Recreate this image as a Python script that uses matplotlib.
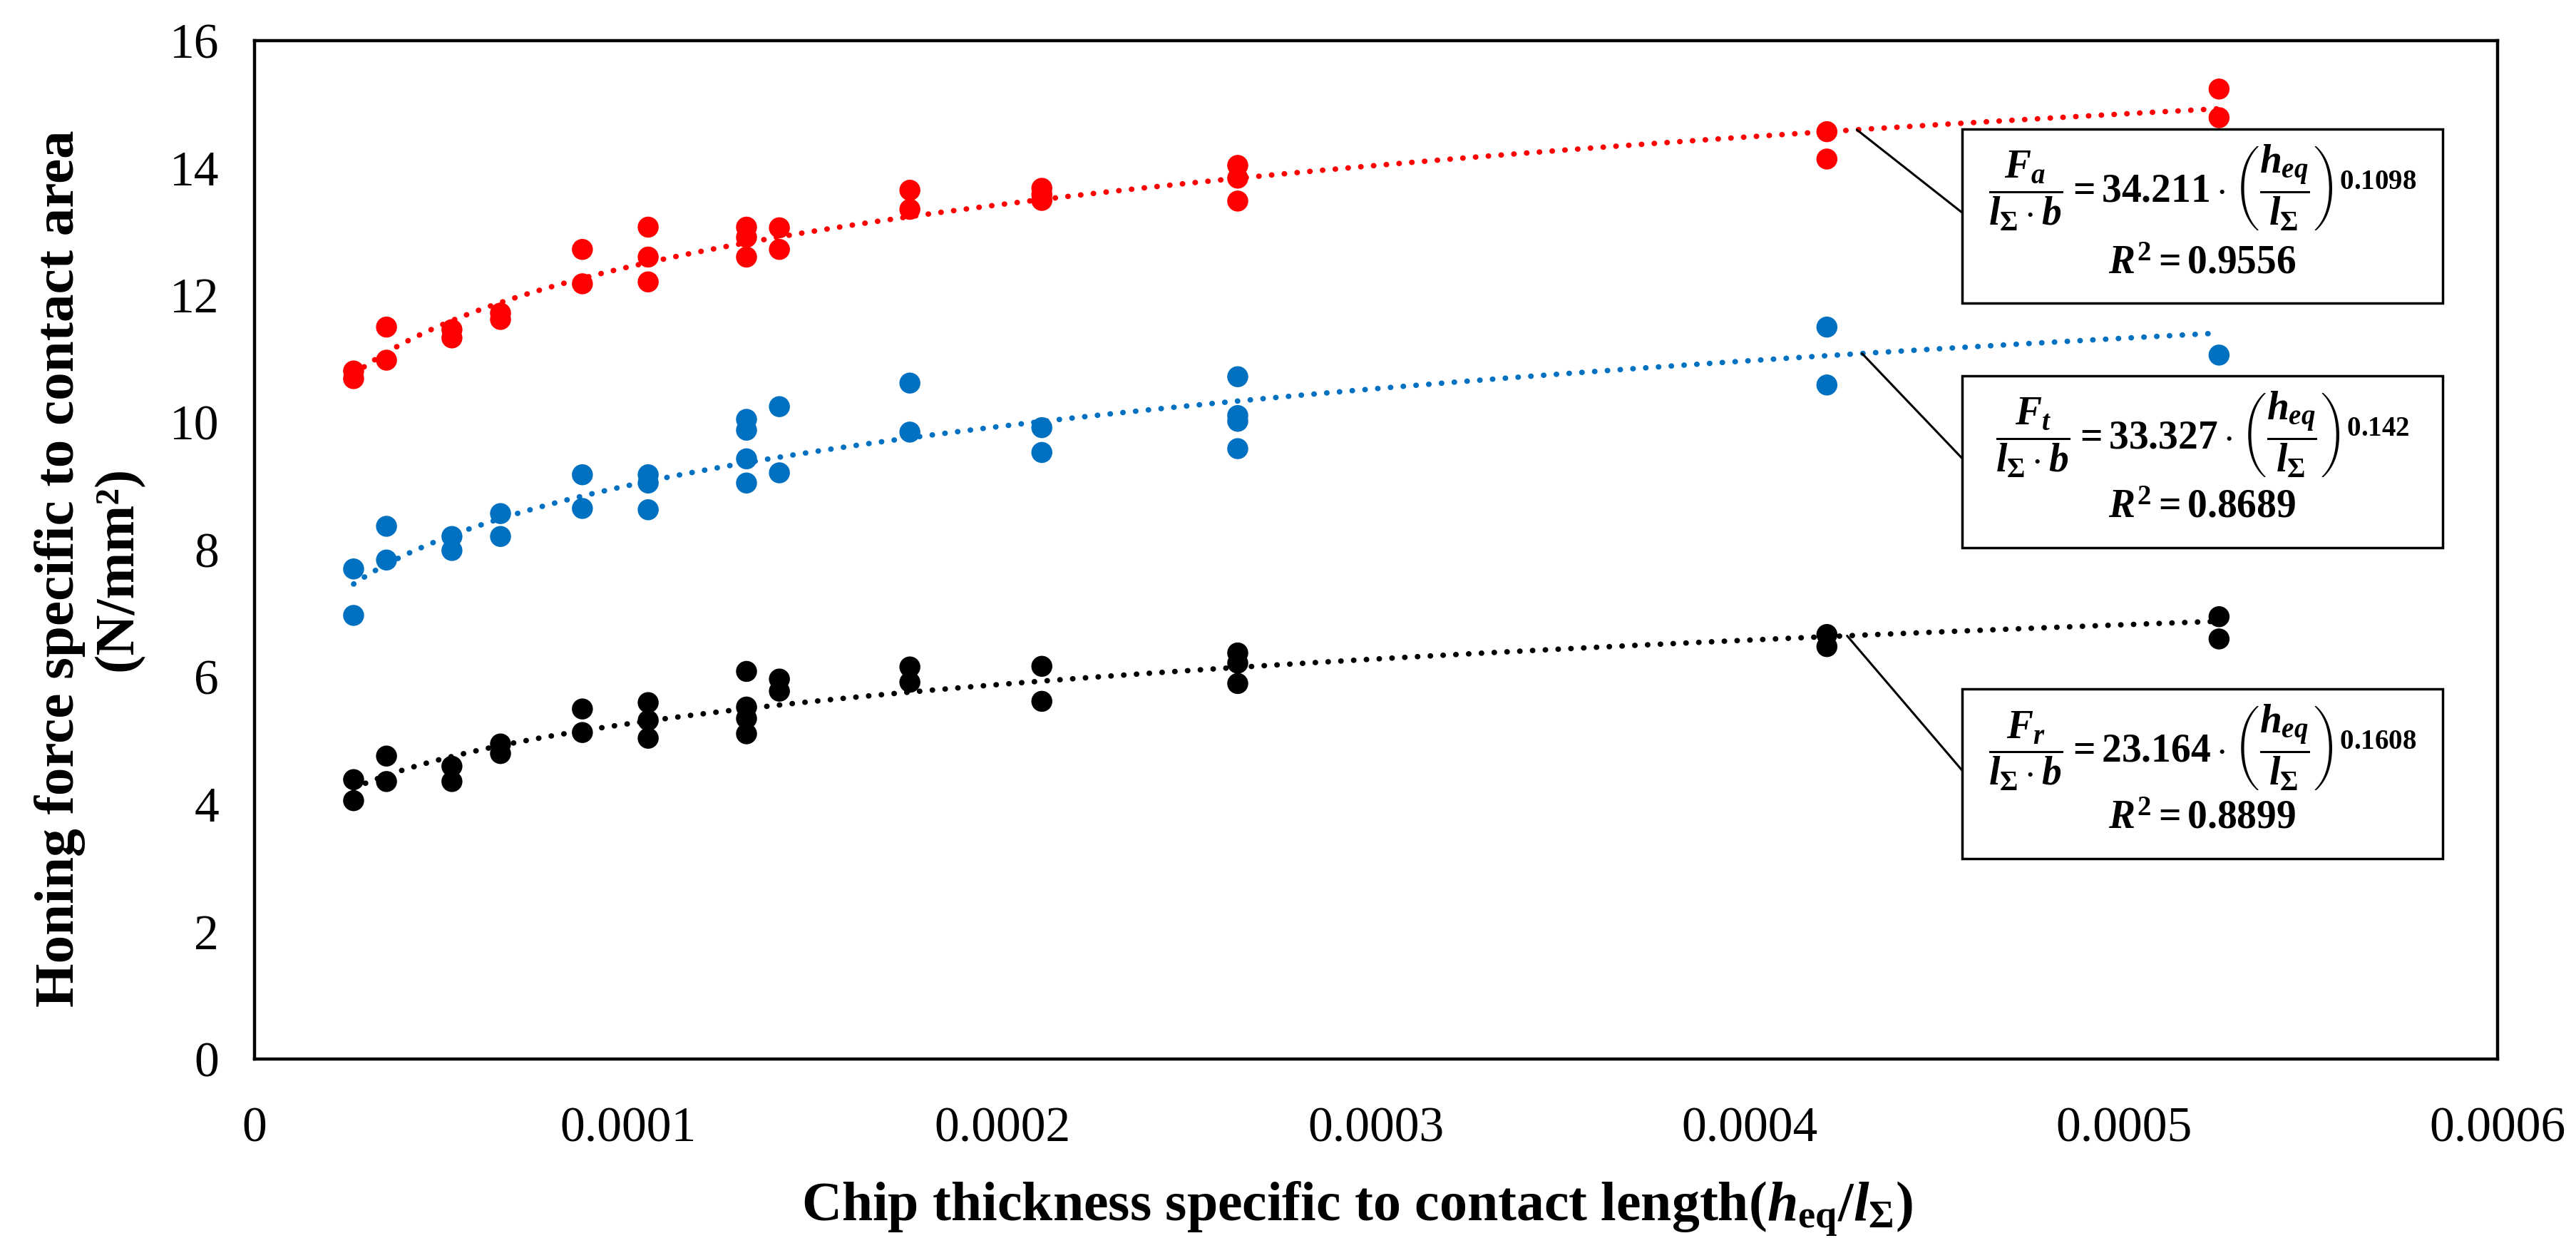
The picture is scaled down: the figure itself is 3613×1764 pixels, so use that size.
import numpy as np
import matplotlib
matplotlib.use("Agg")
import matplotlib.pyplot as plt
from matplotlib.patches import Rectangle

plt.rcParams['font.family'] = ['Liberation Serif', 'DejaVu Serif']
plt.rcParams['mathtext.fontset'] = 'custom'
plt.rcParams['mathtext.rm'] = 'Liberation Serif:bold'
plt.rcParams['mathtext.it'] = 'Liberation Serif:bold:italic'
plt.rcParams['mathtext.bf'] = 'Liberation Serif:bold'

# chip thickness ratio levels (h_eq / l_sigma)
x_levels = [2.65e-5, 3.53e-5, 5.28e-5, 6.58e-5, 8.77e-5, 1.053e-4, 1.316e-4,
            1.404e-4, 1.753e-4, 2.106e-4, 2.630e-4, 4.206e-4, 5.255e-4]

# measured specific forces (N/mm2), several repeats per level
fa_values = [[10.81, 10.69], [11.50, 10.98], [11.46, 11.33], [11.72, 11.62],
             [12.72, 12.18], [13.07, 12.60, 12.21], [13.07, 12.91, 12.60],
             [13.06, 12.72], [13.65, 13.35], [13.68, 13.58, 13.49],
             [14.04, 13.84, 13.48], [14.57, 14.14], [15.24, 14.79]]
ft_values = [[7.70, 6.97], [8.37, 7.84], [8.21, 7.99], [8.57, 8.21],
             [9.18, 8.65], [9.18, 9.05, 8.63], [10.05, 9.88, 9.43, 9.05],
             [10.25, 9.21], [10.62, 9.85], [9.92, 9.53],
             [10.72, 10.11, 10.02, 9.59], [11.50, 10.59], [11.06]]
fr_values = [[4.39, 4.06], [4.76, 4.36], [4.60, 4.36], [4.95, 4.80],
             [5.50, 5.13], [5.60, 5.32, 5.04], [6.09, 5.53, 5.35, 5.11],
             [5.97, 5.78], [6.16, 5.92], [6.17, 5.62],
             [6.38, 6.22, 5.90], [6.67, 6.48], [6.95, 6.60]]

# power trendline coefficients shown in the boxes
fit_coef = [34.211, 33.327, 23.164]
fit_exp = [0.1098, 0.142, 0.1608]
fit_r2 = ['0.9556', '0.8689', '0.8899']
fit_names = ['a', 't', 'r']
colors = ['#FF0000', '#0070C0', '#000000']

W, H = 3613, 1764
fig = plt.figure(figsize=(W / 100, H / 100), dpi=100)
ax = fig.add_axes([357 / W, 1 - 1485 / H, (3503 - 357) / W, (1485 - 57) / H])

all_series = [fa_values, ft_values, fr_values]
x_line = np.linspace(x_levels[0], x_levels[-1], 300)
for vals, col, a, b in zip(all_series, colors, fit_coef, fit_exp):
    xs = []
    ys = []
    for xv, group in zip(x_levels, vals):
        for yv in group:
            xs.append(xv)
            ys.append(yv)
    ax.scatter(xs, ys, s=450, color=col, edgecolors='none', zorder=2)
    ax.plot(x_line, a * x_line ** b, color=col, lw=5.5,
            linestyle=(0, (0.05, 2.3)), dash_capstyle='round', zorder=3)

ax.set_xlim(0, 0.0006)
ax.set_ylim(0, 16)
ax.set_xticks(np.arange(0, 0.00061, 0.0001))
ax.set_xticklabels(['0', '0.0001', '0.0002', '0.0003', '0.0004', '0.0005', '0.0006'])
ax.set_yticks(range(0, 17, 2))
ax.tick_params(length=0, labelsize=50)
ax.tick_params(axis='x', pad=48)
ax.tick_params(axis='y', pad=36)
for sp in ax.spines.values():
    sp.set_linewidth(3.2)
    sp.set_color('black')

fig.text(1903 / W, 1 - 1695 / H,
         r'Chip thickness specific to contact length($h_{\mathrm{eq}}/l_{\Sigma}$)',
         ha='center', va='center', fontsize=56, fontweight='bold')
fig.text(125 / W, 1 - 797 / H, 'Honing force specific to contact area\n(N/mm²)',
         ha='center', va='center', rotation=90, fontsize=57, fontweight='bold',
         multialignment='center', linespacing=1.2)

# equation boxes: (top, bottom) in pixels, leader start x in data
box_rows = [(181, 425), (527, 768), (966, 1204)]
leader_x = [4.286e-4, 4.30e-4, 4.26e-4]
bx0, bx1 = 2752, 3426
for i in range(3):
    top, bot = box_rows[i]
    fig.patches.append(Rectangle((bx0 / W, 1 - bot / H), (bx1 - bx0) / W, (bot - top) / H,
                                 transform=fig.transFigure, facecolor='white',
                                 edgecolor='black', lw=2.5, zorder=5))
    eq = (r'$\dfrac{F_{%s}}{l_{\Sigma}\cdot b} = 34.211\cdot\left(\dfrac{h_{eq}}{l_{\Sigma}}\right)^{%s}$'
          % (fit_names[i], fit_exp[i]))
    eq = eq.replace('34.211', '%.3f' % fit_coef[i])
    fig.text((bx0 + bx1) / 2 / W, 1 - (top + 82) / H, eq, ha='center', va='center',
             fontsize=40, zorder=6)
    fig.text((bx0 + bx1) / 2 / W, 1 - (bot - 56) / H, r'$R^{2} = %s$' % fit_r2[i],
             ha='center', va='center', fontsize=40, zorder=6)
    lx = leader_x[i]
    ly = fit_coef[i] * lx ** fit_exp[i]
    ax.annotate('', xy=(lx, ly), xycoords='data',
                xytext=(bx0 / W, 1 - (top + (bot - top) * 0.48) / H),
                textcoords='figure fraction',
                arrowprops=dict(arrowstyle='-', lw=2.2, color='black',
                                shrinkA=0, shrinkB=0), zorder=4)

fig.savefig('out.png', dpi=100)
